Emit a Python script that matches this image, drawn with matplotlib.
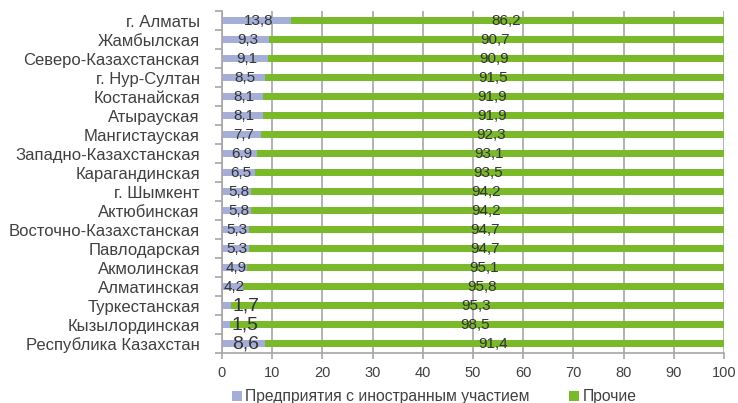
import numpy as np
import matplotlib.pyplot as plt
from matplotlib.ticker import FixedLocator

regions = ['г. Алматы', 'Жамбылская', 'Северо-Казахстанская', 'г. Нур-Султан',
           'Костанайская', 'Атырауская', 'Мангистауская', 'Западно-Казахстанская',
           'Карагандинская', 'г. Шымкент', 'Актюбинская', 'Восточно-Казахстанская',
           'Павлодарская', 'Акмолинская', 'Алматинская', 'Туркестанская',
           'Кызылординская', 'Республика Казахстан']
foreign = [13.8, 9.3, 9.1, 8.5, 8.1, 8.1, 7.7, 6.9, 6.5, 5.8, 5.8, 5.3, 5.3, 4.9, 4.2, 1.7, 1.5, 8.6]
# bar lengths as drawn (Туркестанская bar reaches 100 in the picture)
other = [86.2, 90.7, 90.9, 91.5, 91.9, 91.9, 92.3, 93.1, 93.5, 94.2, 94.2, 94.7, 94.7, 95.1, 95.8, 98.3, 98.5, 91.4]
# labels as printed
other_labels = ['86,2', '90,7', '90,9', '91,5', '91,9', '91,9', '92,3', '93,1', '93,5', '94,2',
                '94,2', '94,7', '94,7', '95,1', '95,8', '95,3', '98,5', '91,4']
big_labels = ['Туркестанская', 'Кызылординская', 'Республика Казахстан']

blue = '#A5AED6'
green = '#7AB929'
gray = '#A6A6A6'
txt = '#333333'

plt.rcParams['font.family'] = ['Liberation Sans', 'DejaVu Sans']

fig = plt.figure(figsize=(7.38, 4.03), dpi=100)
ax = fig.add_axes([0.3008, 0.124, 0.6802, 0.8486])

y = np.arange(len(regions))
h = 0.4
ax.barh(y, foreign, height=h, color=blue, label='Предприятия с иностранным участием', zorder=2)
ax.barh(y, other, left=foreign, height=h, color=green, label='Прочие', zorder=2)

for i, r in enumerate(regions):
    fs = 14 if r in big_labels else 11
    lab = f'{foreign[i]:.1f}'.replace('.', ',')
    if foreign[i] < 3:
        ax.text(foreign[i] + 0.4, y[i], lab, ha='left', va='center', fontsize=fs, color=txt, zorder=3)
    else:
        ax.text(foreign[i] / 2 + 0.4, y[i], lab, ha='center', va='center', fontsize=fs, color=txt, zorder=3)
    ax.text(foreign[i] + other[i] / 2 - 0.3, y[i], other_labels[i],
            ha='center', va='center', fontsize=11, color=txt, zorder=3)

ax.set_xlim(0, 100)
ax.set_ylim(len(regions) - 0.5, -0.5)
ax.set_xticks(range(0, 101, 10))
ax.set_yticks(y)
ax.set_yticklabels(regions, fontsize=12, color='#404040')
ax.yaxis.set_minor_locator(FixedLocator(np.arange(-0.5, len(regions), 1)))
ax.tick_params(axis='y', which='major', length=0, pad=16)
ax.tick_params(axis='y', which='minor', length=5, color=gray, width=1.2)
ax.tick_params(axis='x', length=4.5, color=gray, width=1.2, labelsize=10.5, labelcolor='#404040', pad=5)
ax.xaxis.grid(True, color=gray, linewidth=1.2, zorder=0)
for s in ['top', 'right']:
    ax.spines[s].set_visible(False)
for s in ['left', 'bottom']:
    ax.spines[s].set_color(gray)
    ax.spines[s].set_linewidth(1.2)

fig.legend(loc='center left', bbox_to_anchor=(0.306, 0.015), ncol=2, frameon=False,
           fontsize=11.3, handlelength=0.6, handleheight=0.6, columnspacing=2.5,
           handletextpad=0.25, labelcolor='#404040', borderaxespad=0)

plt.savefig('out.png', dpi=100)
